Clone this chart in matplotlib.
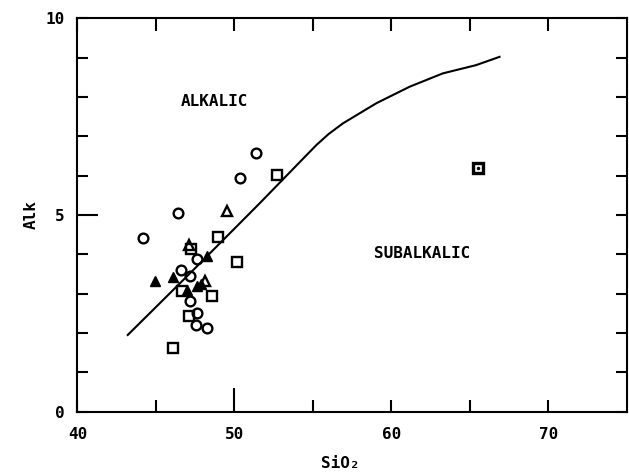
import numpy as np
import matplotlib.pyplot as plt

# boundary curve (alkalic / subalkalic divide)
curve_x = [43.2, 45.25, 47.37, 49.49, 51.61, 53.73, 55.22, 56.0, 56.91, 59.03, 61.15, 63.27, 65.39, 66.88]
curve_y = [1.95, 2.76, 3.60, 4.45, 5.30, 6.17, 6.78, 7.06, 7.33, 7.84, 8.26, 8.60, 8.81, 9.02]

circ_x = [51.40, 50.34, 46.41, 44.15, 46.58, 47.16, 47.62, 47.16, 47.62, 47.54, 48.22]
circ_y = [6.57, 5.95, 5.04, 4.41, 3.60, 3.45, 3.87, 2.82, 2.50, 2.20, 2.12]

sq_x = [52.73, 48.96, 50.13, 47.22, 46.63, 48.54, 47.09, 46.10]
sq_y = [6.02, 4.43, 3.80, 4.13, 3.08, 2.94, 2.44, 1.61]

sqdot_x = [65.50]
sqdot_y = [6.19]

tri_f_x = [44.93, 46.10, 48.22, 46.95, 47.62, 47.85]
tri_f_y = [3.33, 3.43, 3.97, 3.09, 3.20, 3.24]

tri_o_x = [49.53, 48.15, 47.12]
tri_o_y = [5.11, 3.33, 4.25]

FONT = 'DejaVu Sans Mono'
FS = 11.5

fig = plt.figure(figsize=(6.29, 4.73), dpi=100)
ax = fig.add_axes([0.1232, 0.1296, 0.8736, 0.8317])

ax.plot(curve_x, curve_y, 'k-', lw=1.5)
ax.plot(circ_x, circ_y, 'o', ms=7, mfc='none', mec='k', mew=1.7)
ax.plot(sq_x, sq_y, 's', ms=7, mfc='none', mec='k', mew=1.7)
ax.plot(sqdot_x, sqdot_y, 's', ms=7, mfc='none', mec='k', mew=2.4)
ax.plot(sqdot_x, sqdot_y, '.', ms=3, color='k')
ax.plot(tri_f_x, tri_f_y, '^', ms=7, mfc='k', mec='k')
ax.plot(tri_o_x, tri_o_y, '^', ms=7, mfc='none', mec='k', mew=1.7)

ax.text(48.75, 7.88, 'ALKALIC', family=FONT, weight='bold', fontsize=FS,
        ha='center', va='center')
ax.text(61.98, 4.03, 'SUBALKALIC', family=FONT, weight='bold', fontsize=FS,
        ha='center', va='center')

ax.set_xlim(40, 75)
ax.set_ylim(0, 10)
ax.set_xticks([40, 50, 60, 70])
ax.set_xticks([45, 55, 65], minor=True)
ax.set_yticks([0, 5, 10])
ax.set_yticks([1, 2, 3, 4, 6, 7, 8, 9], minor=True)
ax.tick_params(which='both', direction='in', top=True, right=True, width=1.5,
               labelsize=FS)
ax.tick_params(axis='x', which='both', length=9, pad=11)
ax.tick_params(axis='y', which='both', length=8, pad=9)
# the 50 and 5 ticks are drawn longer on the original
ax.xaxis.get_major_ticks()[1].tick1line.set_markersize(17)
ax.yaxis.get_major_ticks()[1].tick1line.set_markersize(15)
for lab in ax.get_xticklabels() + ax.get_yticklabels():
    lab.set_family(FONT)
    lab.set_weight('bold')
for s in ax.spines.values():
    s.set_linewidth(1.5)

ax.set_xlabel('SiO₂', family=FONT, weight='bold', fontsize=FS)
ax.set_ylabel('Alk', family=FONT, weight='bold', fontsize=FS)
ax.xaxis.set_label_coords(0.478, -0.112)
ax.yaxis.set_label_coords(-0.07, 0.5)

plt.savefig('out.png', dpi=100)
